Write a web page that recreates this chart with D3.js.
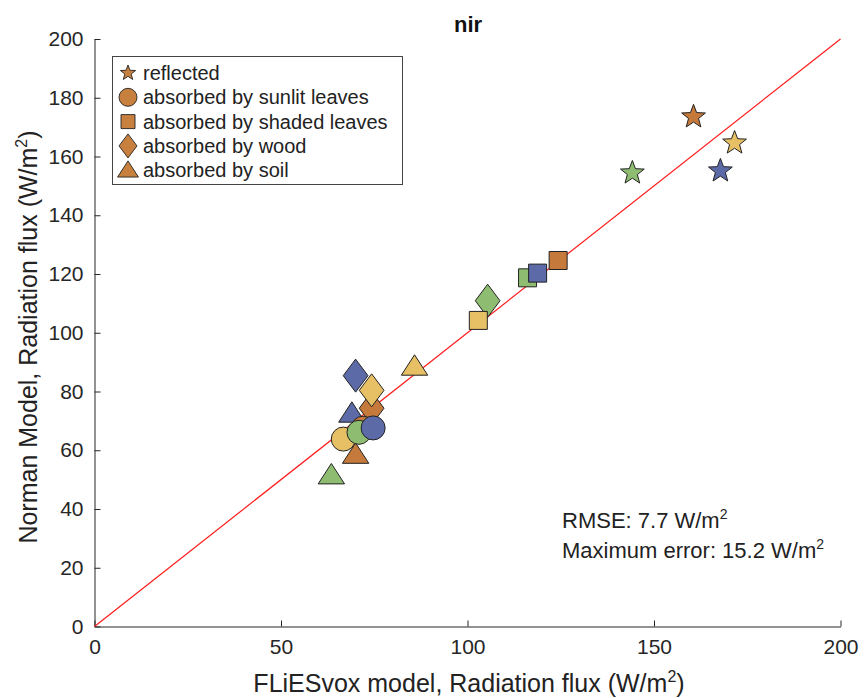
<!DOCTYPE html>
<html><head><meta charset="utf-8">
<script src="https://cdn.jsdelivr.net/npm/d3@7"></script>
<style>body{margin:0;background:#fff}svg{font-family:"Liberation Sans",Arial,Helvetica,sans-serif}</style>
</head><body><svg id="c" width="864" height="698"></svg>
<script>
const groupColors = {green:"#8ebd72", blue:"#5c6aa8", brown:"#c57a3c", yellow:"#e7c066"};
const types = ["reflected","absorbed by sunlit leaves","absorbed by shaded leaves","absorbed by wood","absorbed by soil"];
const typeShapes = ["star","circle","square","diamond","triangle"];
// points in draw order: [type index, group, FLiESvox x, Norman y]
const soilPts    = [[4,"green",63.5,51.5],[4,"brown",70.0,58.5],[4,"blue",69.0,72.5],[4,"yellow",85.8,88.5]];
const woodPts    = [[3,"blue",70.0,85.4],[3,"brown",74.3,74.3],[3,"yellow",74.3,80.4],[3,"green",105.4,110.9]];
const shadedPts  = [[2,"yellow",102.9,104.2],[2,"green",116.1,118.7],[2,"blue",118.8,120.3],[2,"brown",124.3,124.6]];
const sunlitPts  = [[1,"brown",72.0,67.5],[1,"yellow",66.7,63.8],[1,"green",70.9,66.1],[1,"blue",74.7,67.6]];
const reflPts    = [[0,"green",144.2,154.4],[0,"brown",160.6,173.5],[0,"yellow",171.6,164.6],[0,"blue",167.8,155.1]];
const xTicks = [0,50,100,150,200];
const yTicks = [0,20,40,60,80,100,120,140,160,180,200];
const statsLines = [["RMSE: 7.7 W/m","2"],["Maximum error: 15.2 W/m","2"]];

const svg = d3.select("#c");
const x = d3.scaleLinear().domain([0,200]).range([94.5,840.5]);
const y = d3.scaleLinear().domain([0,200]).range([626.5,39]);
const axisColor = "#262626";

// axes
const xa = svg.append("g").attr("transform","translate(0,626.5)")
  .call(d3.axisBottom(x).tickValues(xTicks).tickSizeInner(-6).tickSizeOuter(0).tickPadding(13));
const ya = svg.append("g").attr("transform","translate(94.5,0)")
  .call(d3.axisLeft(y).tickValues(yTicks).tickSizeInner(-6).tickSizeOuter(0).tickPadding(11));
[xa,ya].forEach(a=>{
  a.select(".domain").attr("stroke",axisColor).attr("stroke-width",1);
  a.selectAll(".tick line").attr("stroke",axisColor);
  a.selectAll(".tick text").attr("fill",axisColor).style("font-size","21px").style("font-family","'Liberation Sans',Arial,sans-serif");
});

// 1:1 line
svg.append("line").attr("x1",x(0)).attr("y1",y(0)).attr("x2",x(200)).attr("y2",y(200))
  .attr("stroke","#ff1a1a").attr("stroke-width",1.2);

function shapePath(shape, s){
  const r = s/2;
  if(shape==="circle"){ return d3.symbol(d3.symbolCircle, Math.PI*r*r)(); }
  if(shape==="square"){ return `M${-r},${-r}H${r}V${r}H${-r}Z`; }
  if(shape==="diamond"){ const w=r*0.75, h=r*1.0; return `M0,${-h}L${w},0L0,${h}L${-w},0Z`; }
  if(shape==="triangle"){ const w=r*1.1, h=r*0.85; return `M0,${-h*1.15}L${w},${h*0.85}L${-w},${h*0.85}Z`; }
  if(shape==="star"){
    let p=[]; const R=r*1.0, ri=R*0.42;
    for(let i=0;i<10;i++){ const a=-Math.PI/2+i*Math.PI/5; const rr=i%2?ri:R; p.push([rr*Math.cos(a), rr*Math.sin(a)]); }
    return "M"+p.map(d=>d.join(",")).join("L")+"Z";
  }
}
const sizes = {star:25, circle:24, square:18, diamond:33, triangle:24};

const allPts = [].concat(soilPts, woodPts, shadedPts, sunlitPts, reflPts);
svg.append("g").selectAll("path").data(allPts).join("path")
  .attr("d",d=>shapePath(typeShapes[d[0]], sizes[typeShapes[d[0]]]))
  .attr("transform",d=>`translate(${x(d[2])},${y(d[3])})`)
  .attr("fill",d=>groupColors[d[1]]).attr("stroke","#222").attr("stroke-width",1);

// title
svg.append("text").attr("x",468).attr("y",32).attr("text-anchor","middle")
  .style("font-size","22px").style("font-weight","bold").attr("fill","#111").text("nir");

// axis labels
const xl = svg.append("text").attr("x",469).attr("y",692).attr("text-anchor","middle").style("font-size","25px").attr("fill","#222");
xl.append("tspan").text("FLiESvox model, Radiation flux (W/m");
xl.append("tspan").attr("dy",-10).style("font-size","16px").text("2");
xl.append("tspan").attr("dy",10).text(")");
const yl = svg.append("text").attr("transform","translate(37,337) rotate(-90)").attr("text-anchor","middle").style("font-size","25px").attr("fill","#222");
yl.append("tspan").text("Norman Model, Radiation flux (W/m");
yl.append("tspan").attr("dy",-10).style("font-size","16px").text("2");
yl.append("tspan").attr("dy",10).text(")");

// legend
const lg = svg.append("g");
lg.append("rect").attr("x",112.5).attr("y",56.5).attr("width",290).attr("height",128)
  .attr("fill","#fff").attr("stroke","#444").attr("stroke-width",1);
const legSizes = {star:16, circle:18, square:14, diamond:24, triangle:19};
types.forEach((t,i)=>{
  const cy = 73 + i*24.3;
  lg.append("path").attr("d",shapePath(typeShapes[i], legSizes[typeShapes[i]]))
    .attr("transform",`translate(128,${cy})`).attr("fill","#c8803f").attr("stroke","#222").attr("stroke-width",0.9);
  lg.append("text").attr("x",143).attr("y",cy+7).style("font-size","20px").attr("fill","#222").text(t);
});

// stats
statsLines.forEach((l,i)=>{
  const t = svg.append("text").attr("x",562).attr("y",528+i*29.5).style("font-size","22px").attr("fill","#222");
  t.append("tspan").text(l[0]);
  t.append("tspan").attr("dy",-9).style("font-size","14px").text(l[1]);
});
</script></body></html>
